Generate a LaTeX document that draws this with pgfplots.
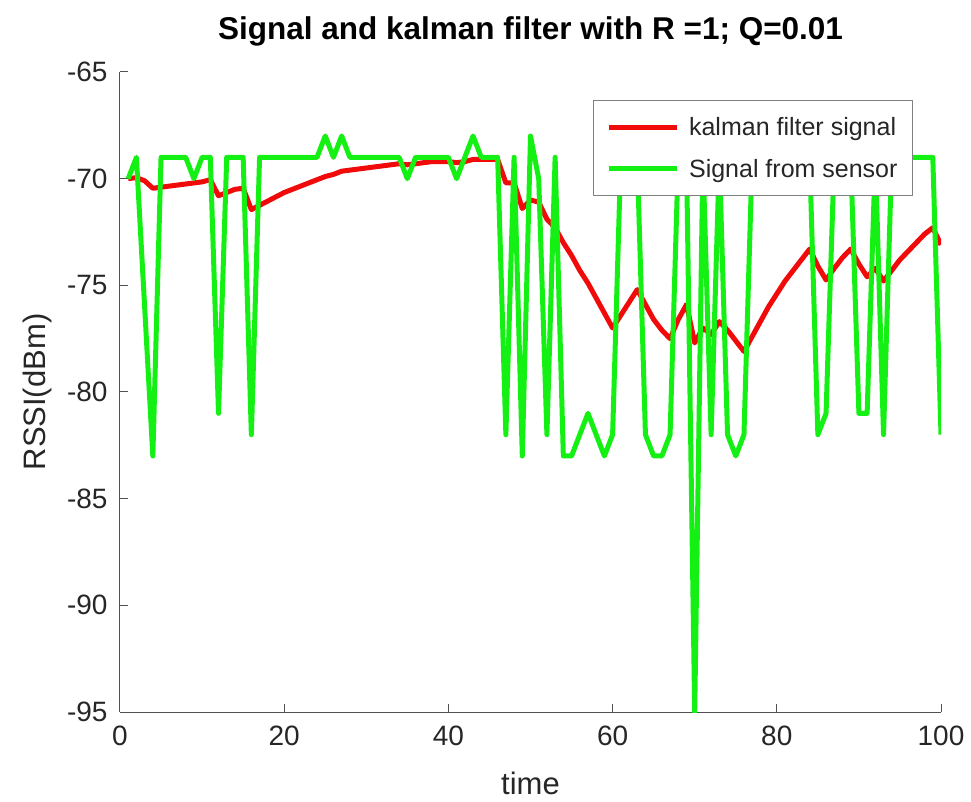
\documentclass[border=0pt]{standalone}
\usepackage{fontspec}
\setmainfont{Liberation Sans}
\usepackage{pgfplots}
\pgfplotsset{compat=1.18}
\definecolor{KRed}{RGB}{240,10,10}
\definecolor{SGreen}{RGB}{20,240,20}
\definecolor{AxGray}{RGB}{38,38,38}

\begin{document}
\begin{tikzpicture}
\begin{axis}[
  name=ax,
  scale only axis,
  width=821bp, height=640bp,
  xmin=0, xmax=100, ymin=-95, ymax=-65,
  xtick={0,20,...,100},
  ytick={-95,-90,...,-65},
  axis x line*=bottom, axis y line*=left,
  axis line style={-, line width=1bp, color=AxGray!80},
  tick style={line width=1bp, color=AxGray!80},
  tick align=inside,
  major tick length=8bp,
  /pgf/number format/assume math mode=true,
  tick label style={font=\fontsize{28bp}{32bp}\selectfont, color=AxGray},
  xticklabel style={yshift=-10bp},
  yticklabel style={xshift=-9bp},
  label style={font=\fontsize{31bp}{36bp}\selectfont, color=AxGray},
  xlabel={time},
  xlabel style={yshift=-20bp},
  ylabel={RSSI(dBm)},
  ylabel style={yshift=8bp},
  title={Signal and kalman filter with R =1; Q=0.01},
  title style={font=\bfseries\fontsize{31.5bp}{36bp}\selectfont, yshift=16bp},
  legend style={at={(1,1)}, anchor=north east, xshift=-28bp, yshift=-28bp,
    draw=gray, line width=1bp, fill=white,
    font=\fontsize{25bp}{30bp}\selectfont, text=AxGray,
    row sep=18bp, column sep=8bp, inner xsep=13bp, inner ysep=15bp,
    cells={anchor=west}},
  legend image code/.code={\draw[#1] (0bp,0bp) -- (68bp,0bp);},
  line join=round,
]
\addplot[color=KRed, line width=5bp] coordinates {
  (1,-70.0) (2,-69.95) (3,-70.1) (4,-70.45) (5,-70.4) (6,-70.35) (7,-70.3) (8,-70.25) (9,-70.2) (10,-70.15)
  (11,-70.05) (12,-70.8) (13,-70.65) (14,-70.5) (15,-70.45) (16,-71.45) (17,-71.25) (18,-71.05) (19,-70.85) (20,-70.65)
  (21,-70.5) (22,-70.35) (23,-70.2) (24,-70.05) (25,-69.9) (26,-69.8) (27,-69.65) (28,-69.6) (29,-69.55) (30,-69.5)
  (31,-69.45) (32,-69.4) (33,-69.35) (34,-69.3) (35,-69.35) (36,-69.3) (37,-69.25) (38,-69.2) (39,-69.2) (40,-69.2)
  (41,-69.25) (42,-69.2) (43,-69.1) (44,-69.1) (45,-69.1) (46,-69.1) (47,-70.2) (48,-70.2) (49,-71.4) (50,-71.0)
  (51,-71.1) (52,-71.9) (53,-72.3) (54,-73.0) (55,-73.6) (56,-74.3) (57,-74.9) (58,-75.6) (59,-76.3) (60,-77.0)
  (61,-76.4) (62,-75.8) (63,-75.2) (64,-75.9) (65,-76.6) (66,-77.1) (67,-77.5) (68,-76.6) (69,-75.9) (70,-77.7)
  (71,-77.0) (72,-77.3) (73,-76.7) (74,-77.1) (75,-77.6) (76,-78.1) (77,-77.4) (78,-76.7) (79,-76.0) (80,-75.4)
  (81,-74.8) (82,-74.3) (83,-73.8) (84,-73.3) (85,-74.1) (86,-74.75) (87,-74.2) (88,-73.7) (89,-73.3) (90,-74.0)
  (91,-74.6) (92,-74.2) (93,-74.8) (94,-74.3) (95,-73.8) (96,-73.4) (97,-73.0) (98,-72.6) (99,-72.3) (100,-73.1)
};
\addlegendentry{kalman filter signal}
\addplot[color=SGreen, line width=5bp] coordinates {
  (1,-70) (2,-69) (3,-76) (4,-83) (5,-69) (6,-69) (7,-69) (8,-69) (9,-70) (10,-69)
  (11,-69) (12,-81) (13,-69) (14,-69) (15,-69) (16,-82) (17,-69) (18,-69) (19,-69) (20,-69)
  (21,-69) (22,-69) (23,-69) (24,-69) (25,-68) (26,-69) (27,-68) (28,-69) (29,-69) (30,-69)
  (31,-69) (32,-69) (33,-69) (34,-69) (35,-70) (36,-69) (37,-69) (38,-69) (39,-69) (40,-69)
  (41,-70) (42,-69) (43,-68) (44,-69) (45,-69) (46,-69) (47,-82) (48,-69) (49,-83) (50,-68)
  (51,-70) (52,-82) (53,-69) (54,-83) (55,-83) (56,-82) (57,-81) (58,-82) (59,-83) (60,-82)
  (61,-69) (62,-69) (63,-69) (64,-82) (65,-83) (66,-83) (67,-82) (68,-69) (69,-69) (70,-95)
  (71,-69) (72,-82) (73,-69) (74,-82) (75,-83) (76,-82) (77,-69) (78,-69) (79,-69) (80,-69)
  (81,-69) (82,-69) (83,-69) (84,-69) (85,-82) (86,-81) (87,-69) (88,-69) (89,-69) (90,-81)
  (91,-81) (92,-69) (93,-82) (94,-69) (95,-69) (96,-69) (97,-69) (98,-69) (99,-69) (100,-82)
};
\addlegendentry{Signal from sensor}
\end{axis}
\path (ax.south west) ++(-120bp,-90bp) rectangle ++(971bp,802bp);
\end{tikzpicture}
\end{document}
